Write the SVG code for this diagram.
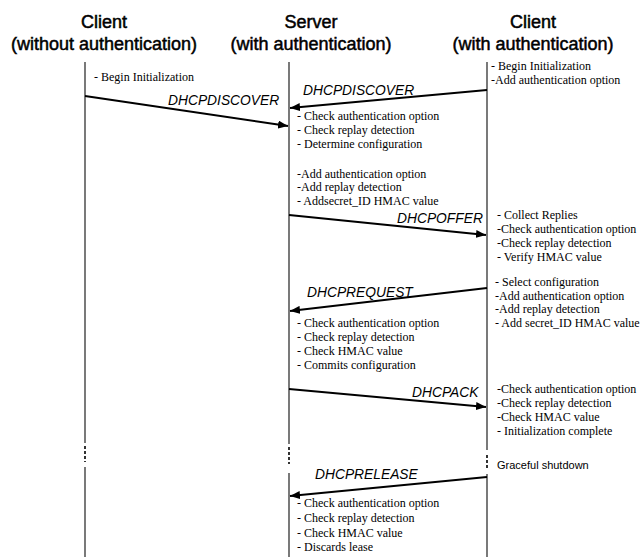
<svg xmlns="http://www.w3.org/2000/svg" width="643" height="557" viewBox="0 0 643 557">
<style>
.hdr{font-family:"Liberation Sans",Arial,sans-serif;font-size:18px;fill:#000;stroke:#000;stroke-width:0.5;text-anchor:middle}
.t{font-family:"Liberation Serif","Times New Roman",serif;font-size:12px;fill:#000}
.lbl{font-family:"Liberation Sans",Arial,sans-serif;font-size:13.8px;font-style:italic;fill:#000}
.sm{font-family:"Liberation Sans",Arial,sans-serif;font-size:11px;fill:#000}
.life{stroke:#333;stroke-width:1.3;fill:none}
.dash{stroke:#000;stroke-width:1.6;stroke-dasharray:3 2;fill:none}
.msg{stroke:#000;stroke-width:2;fill:none;marker-end:url(#ah)}
</style>
<defs>
<marker id="ah" viewBox="0 0 10 8" refX="10" refY="4" markerWidth="10" markerHeight="8" markerUnits="userSpaceOnUse" orient="auto">
<path d="M0,0 L10,4 L0,8 z" fill="#000"/>
</marker>
</defs>
<rect width="643" height="557" fill="#fff"/>
<g id="client-noauth">
<text class="hdr" x="104" y="28">Client</text>
<text class="hdr" x="104" y="50">(without authentication)</text>
<path class="life" d="M85,62 V443 M85,467 V557"/>
<path class="dash" d="M85,446 V462"/>
<text class="t" x="94" y="81">- Begin Initialization</text>
</g>
<g id="server">
<text class="hdr" x="311" y="28">Server</text>
<text class="hdr" x="311" y="50">(with authentication)</text>
<path class="life" d="M289,62 V444 M289,473 V557"/>
<path class="dash" d="M289,447 V464"/>
<text class="t" x="297" y="120">- Check authentication option</text>
<text class="t" x="297" y="134">- Check replay detection</text>
<text class="t" x="297" y="148">- Determine configuration</text>
<text class="t" x="297" y="178">-Add authentication option</text>
<text class="t" x="297" y="191">-Add replay detection</text>
<text class="t" x="297" y="205">-  Addsecret_ID HMAC value</text>
<text class="t" x="297" y="327">- Check authentication option</text>
<text class="t" x="297" y="341">- Check replay detection</text>
<text class="t" x="297" y="355">- Check HMAC value</text>
<text class="t" x="297" y="369">- Commits configuration</text>
<text class="t" x="297" y="507">- Check authentication option</text>
<text class="t" x="297" y="522">- Check replay detection</text>
<text class="t" x="297" y="537">- Check HMAC value</text>
<text class="t" x="297" y="551">- Discards lease</text>
</g>
<g id="client-auth">
<text class="hdr" x="533" y="28">Client</text>
<text class="hdr" x="533" y="50">(with authentication)</text>
<path class="life" d="M487,62 V450 M487,474 V557"/>
<path class="dash" d="M487,455 V470"/>
<text class="t" x="491" y="70">- Begin Initialization</text>
<text class="t" x="491" y="84">-Add authentication option</text>
<text class="t" x="497" y="219">- Collect Replies</text>
<text class="t" x="497" y="233">-Check authentication option</text>
<text class="t" x="497" y="247">-Check replay detection</text>
<text class="t" x="497" y="261">- Verify HMAC value</text>
<text class="t" x="495" y="286">- Select configuration</text>
<text class="t" x="495" y="300">-Add authentication option</text>
<text class="t" x="495" y="313">-Add replay detection</text>
<text class="t" x="495" y="327">-  Add secret_ID HMAC value</text>
<text class="t" x="497" y="393">-Check authentication option</text>
<text class="t" x="497" y="407">-Check replay detection</text>
<text class="t" x="497" y="421">-Check HMAC value</text>
<text class="t" x="497" y="435">- Initialization complete</text>
<text class="sm" x="497" y="469">Graceful shutdown</text>
</g>
<g id="connectors">
<line class="msg" x1="85" y1="96" x2="288" y2="126"/>
<text class="lbl" x="168" y="105">DHCPDISCOVER</text>
<line class="msg" x1="487" y1="90" x2="290" y2="108"/>
<text class="lbl" x="303" y="95">DHCPDISCOVER</text>
<line class="msg" x1="289" y1="215" x2="486" y2="235"/>
<text class="lbl" x="397" y="223">DHCPOFFER</text>
<line class="msg" x1="487" y1="288" x2="290" y2="311"/>
<text class="lbl" x="307" y="297">DHCPREQUEST</text>
<line class="msg" x1="289" y1="389" x2="486" y2="407"/>
<text class="lbl" x="412" y="397">DHCPACK</text>
<line class="msg" x1="487" y1="477" x2="290" y2="496"/>
<text class="lbl" x="315" y="479">DHCPRELEASE</text>
</g>
</svg>
